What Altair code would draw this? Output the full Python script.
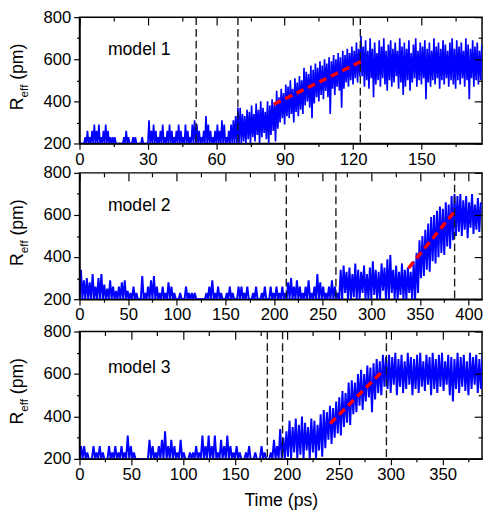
import altair as alt
import pandas as pd

FONT = "Liberation Sans"
W = 411

# ---------------- model 1 : envelope read every 1 ps (t = 0 ... 176) ----------------
m1_step = 1
m1_xmax = 176.6
m1_hi = [
    200, 200, 230, 260, 230, 260, 290, 260, 290, 230,
    260, 290, 260, 230, 230, 230, 200, 200, 200, 230,
    260, 230, 200, 230, 230, 200, 200, 230, 200, 200,
    310, 260, 290, 260, 230, 260, 290, 230, 260, 290,
    260, 230, 260, 290, 260, 230, 290, 260, 230, 290,
    310, 290, 260, 230, 260, 330, 290, 260, 230, 260,
    290, 260, 310, 290, 230, 260, 290, 310, 330, 370,
    370, 340, 330, 360, 350, 380, 340, 390, 360, 400,
    370, 350, 400, 380, 410, 390, 450, 420, 460, 440,
    480, 470, 500, 460, 510, 490, 520, 500, 560, 540,
    530, 570, 550, 580, 560, 590, 570, 600, 580, 610,
    590, 620, 600, 630, 610, 640, 620, 650, 630, 660,
    640, 680, 650, 710, 660, 690, 640, 700, 650, 680,
    630, 690, 660, 700, 640, 670, 690, 650, 680, 640,
    700, 660, 680, 650, 690, 630, 670, 700, 640, 680,
    660, 690, 650, 680, 640, 700, 660, 680, 650, 690,
    670, 640, 680, 700, 650, 690, 660, 680, 640, 700,
    670, 650, 690, 660, 680, 640, 670,
]
m1_lo = [
    200, 200, 200, 200, 200, 200, 200, 200, 200, 200,
    200, 200, 200, 200, 200, 200, 200, 200, 200, 200,
    200, 200, 200, 200, 200, 200, 200, 200, 200, 200,
    200, 200, 200, 200, 200, 200, 200, 200, 200, 200,
    200, 200, 200, 200, 200, 200, 200, 200, 200, 200,
    200, 200, 200, 200, 200, 200, 200, 200, 200, 200,
    200, 200, 200, 200, 200, 200, 200, 200, 200, 200,
    200, 200, 210, 200, 220, 200, 230, 210, 240, 200,
    230, 250, 220, 200, 240, 260, 210, 270, 300, 320,
    290, 330, 320, 340, 300, 350, 330, 360, 340, 380,
    400, 370, 320, 390, 420, 400, 430, 410, 450, 420,
    340, 460, 430, 470, 450, 370, 460, 490, 470, 500,
    480, 510, 490, 520, 520, 470, 500, 460, 510, 420,
    480, 500, 470, 510, 480, 450, 500, 470, 490, 520,
    460, 490, 430, 470, 500, 450, 490, 510, 470, 500,
    480, 510, 410, 490, 470, 500, 480, 510, 460, 500,
    480, 510, 470, 500, 480, 460, 500, 480, 510, 470,
    500, 410, 510, 470, 500, 480, 500,
]
m1_vlines = [51.2, 69.5, 123.2]
m1_fit_t = [85.2, 123.6]
m1_fit_v = [386, 590]

# ---------------- model 2 : envelope read every 3 ps (t = 0 ... 411) ----------------
m2_step = 3
m2_xmax = 413.8
m2_hi = [
    340, 290, 300, 280, 320, 260, 300, 320, 270, 250,
    290, 260, 240, 260, 280, 290, 240, 230, 260, 230,
    200, 310, 230, 260, 290, 310, 260, 230, 260, 230,
    280, 260, 230, 200, 230, 200, 260, 230, 230, 230,
    200, 200, 200, 230, 260, 290, 230, 260, 230, 200,
    230, 260, 230, 200, 260, 260, 230, 260, 200, 230,
    260, 200, 230, 260, 200, 260, 230, 260, 230, 260,
    230, 280, 300, 260, 290, 260, 230, 260, 290, 230,
    260, 320, 280, 260, 230, 260, 290, 260, 230,
    340, 360, 330, 350, 320, 370, 340, 330, 360, 320,
    350, 380, 340, 330, 370, 350, 390, 410, 340, 360,
    330, 370, 340, 350, 330,
    380, 420, 480, 500, 530, 560, 590, 600, 620, 640,
    630, 660, 650, 690, 700,
    690, 700, 670, 690, 660, 700, 650, 680, 660,
]
m2_lo = [
    200, 200, 200, 200, 200, 200, 200, 200, 200, 200,
    200, 200, 200, 200, 200, 200, 200, 200, 200, 200,
    200, 200, 200, 200, 200, 200, 200, 200, 200, 200,
    200, 200, 200, 200, 200, 200, 200, 200, 200, 200,
    200, 200, 200, 200, 200, 200, 200, 200, 200, 200,
    200, 200, 200, 200, 200, 200, 200, 200, 200, 200,
    200, 200, 200, 200, 200, 200, 200, 200, 200, 200,
    200, 200, 200, 200, 200, 200, 200, 200, 200, 200,
    200, 200, 200, 200, 200, 200, 200, 200, 200,
    200, 200, 230, 200, 200, 210, 200, 200, 230, 200,
    200, 200, 220, 200, 200, 240, 200, 200, 230, 200,
    200, 220, 200, 200, 230,
    200, 200, 230, 300, 310, 340, 330, 380, 370, 400,
    420, 410, 450, 440, 480,
    500, 520, 500, 530, 490, 540, 510, 530, 520,
]
m2_vlines = [212.6, 263.6, 385.6]
m2_fit_t = [338.2, 384.5]
m2_fit_v = [347, 611]

# ---------------- model 3 : envelope read every 3 ps (t = 0 ... 387) ----------------
m3_step = 3
m3_xmax = 388.1
m3_hi = [
    260, 260, 230, 200, 260, 230, 260, 230, 200, 260,
    230, 260, 230, 260, 230, 310, 260, 230, 200, 200,
    200, 200, 290, 260, 230, 260, 290, 330, 260, 290,
    260, 230, 290, 230, 200, 230, 230, 260, 230, 310,
    260, 310, 260, 310, 230, 290, 260, 310, 260, 230,
    260, 230, 200, 230, 260, 200, 230, 200, 260, 230,
    200, 230, 290, 260, 340, 300,
    330, 380, 350, 390, 360, 400, 370, 350, 390, 380,
    360, 410, 430,
    420, 450, 440, 470, 490, 520, 510, 560, 570, 560,
    600, 620, 600, 640, 630, 650, 670, 660, 690, 680,
    690, 680, 700, 670, 690, 660, 700, 680, 670, 690,
    700, 660, 690, 680, 700, 670, 690, 700, 660, 690,
    680, 670, 700, 680, 690, 660, 700, 680, 690, 670,
    690,
]
m3_lo = [
    200, 200, 200, 200, 200, 200, 200, 200, 200, 200,
    200, 200, 200, 200, 200, 200, 200, 200, 200, 200,
    200, 200, 200, 200, 200, 200, 200, 200, 200, 200,
    200, 200, 200, 200, 200, 200, 200, 200, 200, 200,
    200, 200, 200, 200, 200, 200, 200, 200, 200, 200,
    200, 200, 200, 200, 200, 200, 200, 200, 200, 200,
    200, 200, 200, 200, 200, 200,
    200, 210, 200, 230, 200, 220, 200, 240, 200, 230,
    200, 240, 210,
    250, 290, 270, 300, 320, 310, 350, 370, 360, 410,
    420, 450, 430, 470, 490, 420, 480, 510, 500, 540,
    530, 510, 550, 500, 540, 510, 530, 550, 500, 530,
    510, 540, 520, 550, 500, 530, 510, 540, 520, 550,
    500, 470, 530, 510, 540, 520, 500, 530, 550, 510,
    530,
]
m3_vlines = [181.1, 195.8, 295.9]
m3_fit_t = [241.7, 293.4]
m3_fit_v = [366, 620]

y_ticks = [200, 300, 400, 500, 600, 700, 800]
y_title_parts = ["R", "eff", "(pm)"]
model_names = ["model 1", "model 2", "model 3"]


def zigzag(step, lo, hi):
    t, v = [], []
    for i, (a, b) in enumerate(zip(lo, hi)):
        t += [i * step, i * step + step / 2]
        v += [a, b]
    return pd.DataFrame({"t": t, "v": v})


def dash_rule(major, long_len, short_len):
    return {"condition": {"test": f"datum.value % {major} !== 0", "value": [short_len, 60]},
            "value": [long_len, 0]}


def panel(step, lo, hi, xmax, major, minor, vlines, fit_t, fit_v, name, H,
          label_y, lw, xtitle=None, title_pad=10, label_pad=2):
    xticks = list(range(0, int(xmax) + 1, minor))
    xs = alt.Scale(domain=[0, xmax], nice=False, zero=False)
    ys = alt.Scale(domain=[200, 800], nice=False, zero=False)

    x_main = alt.Axis(values=xticks, labelExpr=f"datum.value % {major} === 0 ? datum.label : ''",
                      labelFlush=False, labelOverlap=False, tickSize=6,
                      tickDash=dash_rule(major, 6, 3), tickColor="black", tickWidth=1.2,
                      domainColor="black", domainWidth=1.5, grid=False,
                      labelFont=FONT, labelFontSize=17, labelColor="black",
                      labelPadding=label_pad, zindex=1,
                      title=xtitle if xtitle else None,
                      titleFont=FONT, titleFontSize=18, titleFontWeight="normal",
                      titleColor="black", titlePadding=title_pad)
    y_main = alt.Axis(values=y_ticks, labelExpr="datum.value % 200 === 0 ? datum.label : ''",
                      labelOverlap=False, tickSize=6, tickDash=dash_rule(200, 6, 3),
                      tickColor="black", tickWidth=1.2, domainColor="black", domainWidth=1.5,
                      grid=False, labelFont=FONT, labelFontSize=17, labelColor="black",
                      labelPadding=3, title=None, zindex=1)
    x_mirror = alt.Axis(orient="bottom", offset=-H, values=xticks, labels=False, domain=False,
                        tickSize=8, tickDash=dash_rule(major, 8, 4), tickColor="black",
                        tickWidth=1.2, grid=False, title=None, zindex=1)
    y_mirror = alt.Axis(orient="left", offset=-W, values=y_ticks, labels=False, domain=False,
                        tickSize=8, tickDash=dash_rule(200, 8, 4), tickColor="black",
                        tickWidth=1.2, grid=False, title=None, zindex=1)

    line = alt.Chart(zigzag(step, lo, hi)).mark_line(
        color="#0000ff", strokeWidth=lw, clip=True
    ).encode(x=alt.X("t:Q", scale=xs, axis=x_main), y=alt.Y("v:Q", scale=ys, axis=y_main))

    rules = alt.Chart(pd.DataFrame({"t": vlines})).mark_rule(
        color="#1a1a1a", strokeWidth=1.4, strokeDash=[8, 4]
    ).encode(x=alt.X("t:Q", scale=xs, axis=x_mirror))

    fit = alt.Chart(pd.DataFrame({"t": fit_t, "v": fit_v})).mark_line(
        color="#ff0000", strokeWidth=3.5, strokeDash=[8, 5]
    ).encode(x=alt.X("t:Q", scale=xs, axis=None), y=alt.Y("v:Q", scale=ys, axis=y_mirror))

    one = pd.DataFrame({"a": [0]})
    r_txt = alt.Chart(one).mark_text(text=y_title_parts[0], angle=270, align="left",
                                     baseline="alphabetic", font=FONT, fontSize=18,
                                     color="black").encode(x=alt.value(-58), y=alt.value(95))
    eff_txt = alt.Chart(one).mark_text(text=y_title_parts[1], angle=270, align="left",
                                       baseline="alphabetic", font=FONT, fontSize=12,
                                       color="black").encode(x=alt.value(-53), y=alt.value(82))
    pm_txt = alt.Chart(one).mark_text(text=y_title_parts[2], angle=270, align="left",
                                      baseline="alphabetic", font=FONT, fontSize=18,
                                      color="black").encode(x=alt.value(-58), y=alt.value(64))
    name_txt = alt.Chart(one).mark_text(text=name, align="left", baseline="alphabetic",
                                        font=FONT, fontSize=18, color="black").encode(
        x=alt.value(29), y=alt.value(label_y))

    return alt.layer(line, rules, fit, r_txt, eff_txt, pm_txt, name_txt).resolve_axis(
        x="independent", y="independent").properties(width=W, height=H)


p1 = panel(m1_step, m1_lo, m1_hi, m1_xmax, 30, 15, m1_vlines, m1_fit_t, m1_fit_v,
           model_names[0], 129, 39, 1.7)
p2 = panel(m2_step, m2_lo, m2_hi, m2_xmax, 50, 25, m2_vlines, m2_fit_t, m2_fit_v,
           model_names[1], 129, 39, 2.0)
p3 = panel(m3_step, m3_lo, m3_hi, m3_xmax, 50, 25, m3_vlines, m3_fit_t, m3_fit_v,
           model_names[2], 130, 42, 2.0, xtitle="Time (ps)")

chart = alt.vconcat(alt.vconcat(p1, p2, spacing=-5), p3, spacing=-2).properties(
    padding={"left": 0, "top": -6, "right": 0, "bottom": 0}
).configure_view(stroke="black", strokeWidth=1.5)

chart.save("out.html", embed_options={"renderer": "svg", "actions": False})
